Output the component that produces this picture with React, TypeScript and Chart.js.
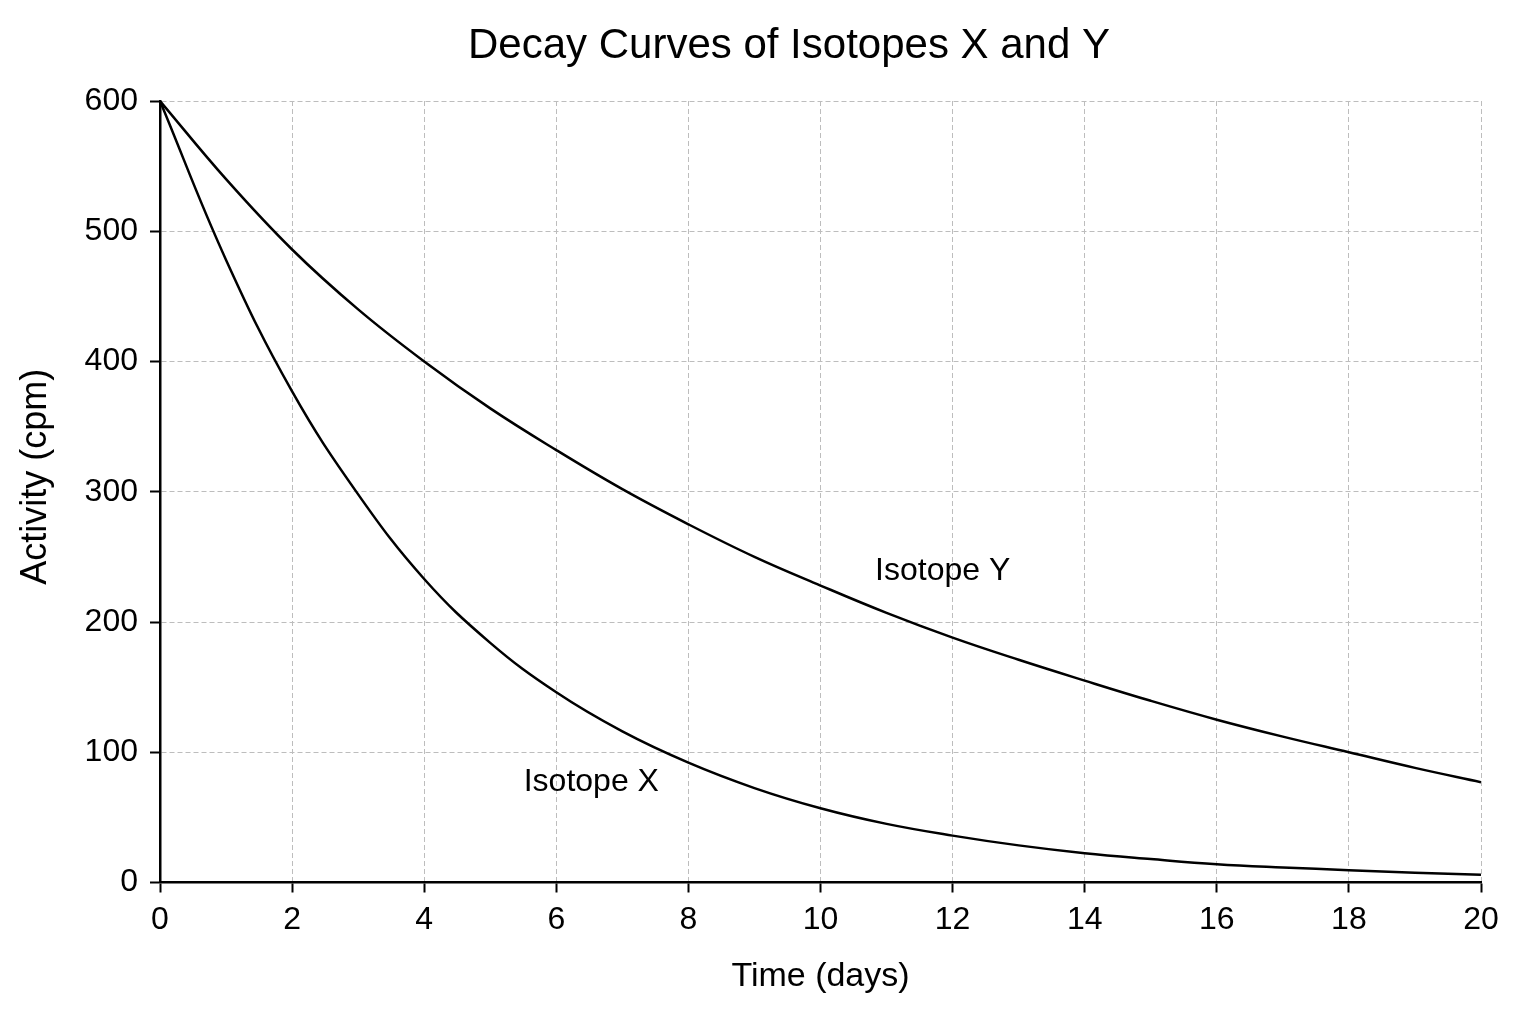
import { useEffect, useRef } from "react";
import { Chart, registerables } from "chart.js";

Chart.register(...registerables);

const days = [0, 1, 2, 3, 4, 5, 6, 7, 8, 9, 10, 11, 12, 13, 14, 15, 16, 17, 18, 19, 20];
const isotopeX = [600, 478, 377, 298, 233, 184, 146, 116, 92, 72.5, 57, 45, 36, 28.5, 22.5, 18, 14, 11.5, 9.5, 7.5, 6];
const isotopeY = [600, 540, 486, 440, 400, 364, 332, 302, 275, 250, 228, 207, 188, 171, 155, 139.5, 125, 112, 100, 88, 77];

const chartTitle = "Decay Curves of Isotopes X and Y";

// where the curve names sit, in data units (day, cpm)
const curveLabels = [
  { text: "Isotope X", day: 6.53, cpm: 77 },
  { text: "Isotope Y", day: 11.85, cpm: 239 },
];

const FONT = "'Liberation Sans', Arial, Helvetica, sans-serif";

const textPlugin = {
  id: "chartText",
  afterDraw(chart: Chart) {
    const { ctx, scales } = chart;
    ctx.save();
    ctx.fillStyle = "#000";
    ctx.textAlign = "center";
    ctx.textBaseline = "middle";

    // title sits a little right of the canvas centre, as in the original figure
    ctx.font = `42px ${FONT}`;
    ctx.fillText(chartTitle, chart.width / 2 + 21, 46);

    ctx.font = `32px ${FONT}`;
    curveLabels.forEach((l) => {
      ctx.fillText(l.text, scales.x.getPixelForValue(l.day), scales.y.getPixelForValue(l.cpm));
    });
    ctx.restore();
  },
};

export default function App() {
  const canvasRef = useRef<HTMLCanvasElement>(null);
  const chartRef = useRef<Chart | null>(null);

  useEffect(() => {
    document.body.style.margin = "0";
    if (!canvasRef.current) return;
    if (chartRef.current) chartRef.current.destroy();

    const ctx = canvasRef.current.getContext("2d");
    if (!ctx) return;

    Chart.defaults.font.family = FONT;
    Chart.defaults.color = "#000";

    const gridStyle = {
      color: "#bdbdbd",
      lineWidth: 1,
      tickColor: "#000",
      tickWidth: 2,
      tickLength: 10,
    };

    const lineStyle = {
      borderColor: "#000",
      borderWidth: 2.5,
      pointRadius: 0,
      tension: 0.4,
    };

    chartRef.current = new Chart(ctx, {
      type: "line",
      data: {
        datasets: [
          {
            label: "Isotope X",
            data: days.map((d, i) => ({ x: d, y: isotopeX[i] })),
            ...lineStyle,
          },
          {
            label: "Isotope Y",
            data: days.map((d, i) => ({ x: d, y: isotopeY[i] })),
            ...lineStyle,
          },
        ],
      },
      options: {
        responsive: true,
        maintainAspectRatio: false,
        animation: false,
        layout: { padding: { top: 101, right: 55, bottom: 0, left: 0 } },
        plugins: {
          legend: { display: false },
          tooltip: { enabled: false },
          title: { display: false },
        },
        scales: {
          x: {
            type: "linear",
            min: 0,
            max: 20,
            ticks: { stepSize: 2, font: { size: 32 }, padding: 8, color: "#000" },
            grid: gridStyle,
            border: { color: "#000", width: 2.5, dash: [5, 3] },
            title: {
              display: true,
              text: "Time (days)",
              color: "#000",
              font: { size: 34 },
              padding: { top: 0, bottom: 27 },
            },
            afterFit(scale: any) {
              scale.height = 141.5;
            },
          },
          y: {
            min: 0,
            max: 600,
            ticks: { stepSize: 100, font: { size: 32 }, padding: 12, color: "#000" },
            grid: gridStyle,
            border: { color: "#000", width: 2.5, dash: [5, 3] },
            title: {
              display: true,
              // leading spaces lift the rotated label slightly above the axis middle
              text: "   Activity (cpm)",
              color: "#000",
              font: { size: 36 },
              padding: { top: 14, bottom: 0 },
            },
            afterFit(scale: any) {
              scale.width = 160;
            },
          },
        },
      },
      plugins: [textPlugin],
    });

    return () => {
      if (chartRef.current) {
        chartRef.current.destroy();
        chartRef.current = null;
      }
    };
  }, []);

  return (
    <div style={{ width: "1536px", height: "1024px", background: "#fff" }}>
      <canvas ref={canvasRef} />
    </div>
  );
}
